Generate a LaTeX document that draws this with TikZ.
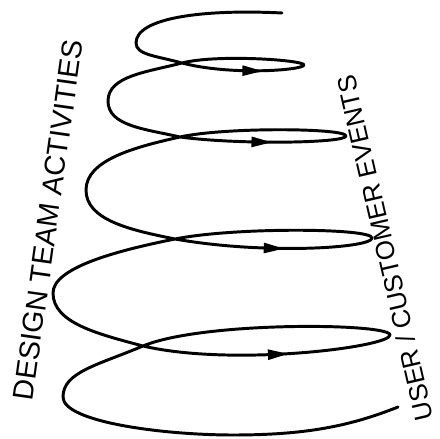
\documentclass[tikz,border=0pt]{standalone}
\usepackage{fontspec}
\setmainfont{Liberation Sans}
\usepackage{tikz}
\usetikzlibrary{shapes.geometric}

\begin{document}
\begin{tikzpicture}[
  x=0.025cm,y=0.025cm,
  coil/.style={line width=2.1pt,line cap=round,line join=round},
  tip/.style={isosceles triangle,isosceles triangle stretches,fill=black,draw=none,inner sep=0pt,minimum width=2.7mm,minimum height=5mm,sloped,allow upside down},
  hand/.style={inner sep=0pt,font=\fontsize{20.5}{20.5}\selectfont}
]
\useasboundingbox (0,0) rectangle (440,439);
% left turns, crossings and right tips of the coil
\coordinate (s) at (282,426);
\coordinate (l1) at (136,396);
\coordinate (c1) at (182,376);
\coordinate (r1) at (304,374);
\coordinate (l2) at (108,338);
\coordinate (c2) at (180,302);
\coordinate (r2) at (346,303);
\coordinate (l3) at (86,249);
\coordinate (c3) at (175,200);
\coordinate (r3) at (372,201);
\coordinate (l4) at (53,146);
\coordinate (c4) at (143,93);
\coordinate (r4) at (390,104);
\coordinate (l5) at (63,42);
\coordinate (b) at (233,4);
\coordinate (e) at (398,32);
% the coil
\draw[coil] (s) .. controls +(-80,4) and +(0,25) .. (l1)
  .. controls +(0,-12) and +(-25,7) .. (c1)
  .. controls +(50,-13) and +(0,-5) .. node[tip,pos=0.4] (t1) {} (r1)
  .. controls +(0,5) and +(35,9) .. (c1)
  .. controls +(-35,-9) and +(0,25) .. (l2)
  .. controls +(0,-25) and +(-35,8) .. (c2)
  .. controls +(60,-8) and +(0,-7) .. node[tip,pos=0.36] (t2) {} (r2)
  .. controls +(0,8) and +(45,10) .. (c2)
  .. controls +(-45,-10) and +(0,30) .. (l3)
  .. controls +(0,-30) and +(-45,9) .. (c3)
  .. controls +(90,-16) and +(0,-10) .. node[tip,pos=0.34] (t3) {} (r3)
  .. controls +(0,10) and +(60,12) .. (c3)
  .. controls +(-60,-12) and +(0,25) .. (l4)
  .. controls +(0,-30) and +(-45,12) .. (c4)
  .. controls +(90,-21) and +(0,-12) .. node[tip,pos=0.41] (t4) {} (r4)
  .. controls +(0,12) and +(60,25) .. (c4)
  .. controls +(-45,-19) and +(0,25) .. (l5)
  .. controls +(0,-25) and +(-70,0) .. (b)
  .. controls +(70,0) and +(-50,-20) .. (e);
% labels
\node[hand,rotate=82] (design) at (48,219) {DESIGN TEAM ACTIVITIES};
\node[hand,font=\fontsize{18.5}{18.5}\selectfont,rotate=103] (events) at (385,191) {USER / CUSTOMER EVENTS};
\end{tikzpicture}
\end{document}
